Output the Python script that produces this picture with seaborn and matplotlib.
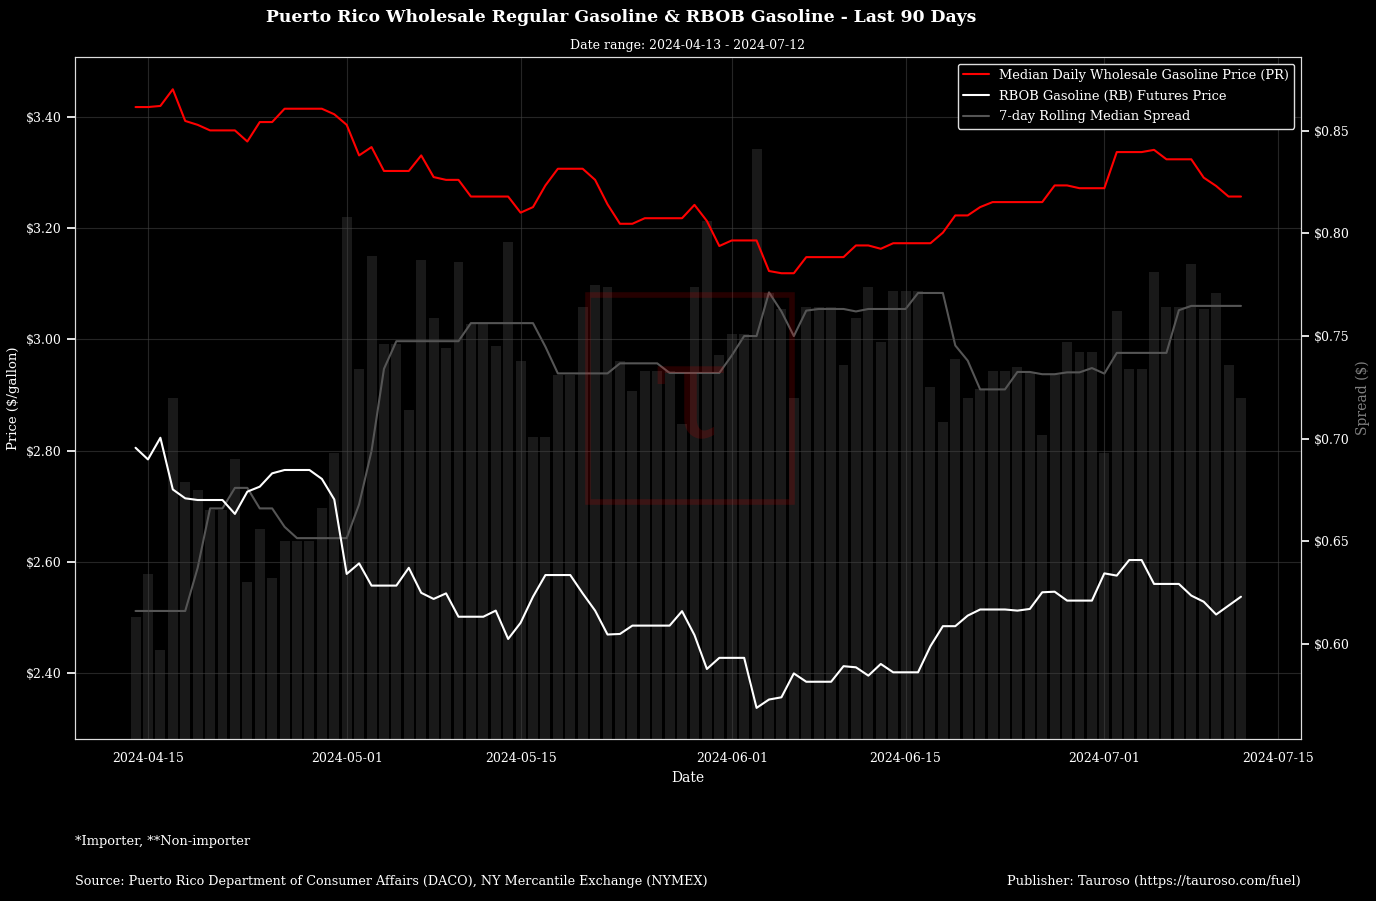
import numpy as np
import pandas as pd
import matplotlib
matplotlib.use('Agg')
import matplotlib.pyplot as plt
import matplotlib.dates as mdates
from matplotlib.patches import Rectangle
from matplotlib.ticker import FuncFormatter
import seaborn as sns

# daily series, 2024-04-14 .. 2024-07-12
start_date = '2024-04-14'
end_date = '2024-07-12'

pr_price = [
    3.418, 3.418, 3.420, 3.450, 3.393, 3.386, 3.376, 3.376, 3.376, 3.356,
    3.391, 3.391, 3.415, 3.415, 3.415, 3.415, 3.405, 3.386, 3.331, 3.346,
    3.303, 3.303, 3.303, 3.331, 3.292, 3.287, 3.287, 3.257, 3.257, 3.257,
    3.257, 3.228, 3.238, 3.277, 3.307, 3.307, 3.307, 3.287, 3.243, 3.208,
    3.208, 3.218, 3.218, 3.218, 3.218, 3.242, 3.213, 3.168, 3.178, 3.178,
    3.178, 3.123, 3.119, 3.119, 3.148, 3.148, 3.148, 3.148, 3.169, 3.169,
    3.163, 3.173, 3.173, 3.173, 3.173, 3.192, 3.223, 3.223, 3.238, 3.247,
    3.247, 3.247, 3.247, 3.247, 3.277, 3.277, 3.272, 3.272, 3.272, 3.337,
    3.337, 3.337, 3.341, 3.324, 3.324, 3.324, 3.291, 3.276, 3.257, 3.257,
]

rbob_price = [
    2.805, 2.784, 2.823, 2.730, 2.714, 2.711, 2.711, 2.711, 2.686, 2.726,
    2.735, 2.759, 2.765, 2.765, 2.765, 2.749, 2.712, 2.578, 2.597, 2.557,
    2.557, 2.557, 2.589, 2.544, 2.533, 2.543, 2.501, 2.501, 2.501, 2.512,
    2.461, 2.490, 2.537, 2.576, 2.576, 2.576, 2.543, 2.512, 2.469, 2.470,
    2.485, 2.485, 2.485, 2.485, 2.511, 2.468, 2.407, 2.427, 2.427, 2.427,
    2.337, 2.352, 2.356, 2.399, 2.384, 2.384, 2.384, 2.412, 2.410, 2.395,
    2.416, 2.401, 2.401, 2.401, 2.448, 2.484, 2.484, 2.503, 2.514, 2.514,
    2.514, 2.512, 2.515, 2.545, 2.546, 2.530, 2.530, 2.530, 2.579, 2.575,
    2.603, 2.603, 2.560, 2.560, 2.560, 2.539, 2.528, 2.505, 2.521, 2.537,
]

rolling_spread = [
    0.616, 0.616, 0.616, 0.616, 0.616, 0.637, 0.666, 0.666, 0.676, 0.676,
    0.666, 0.666, 0.657, 0.6515, 0.6515, 0.6515, 0.6515, 0.6515, 0.668, 0.694,
    0.734, 0.7475, 0.7475, 0.7475, 0.7475, 0.7475, 0.7475, 0.7563, 0.7563, 0.7563,
    0.7563, 0.7563, 0.7563, 0.7448, 0.7318, 0.7318, 0.7318, 0.7318, 0.7318, 0.7367,
    0.7367, 0.7367, 0.7367, 0.732, 0.732, 0.732, 0.732, 0.732, 0.7405, 0.750,
    0.750, 0.7713, 0.762, 0.750, 0.7624, 0.7632, 0.7632, 0.7632, 0.762, 0.7632,
    0.7632, 0.7632, 0.7632, 0.771, 0.771, 0.771, 0.7454, 0.738, 0.724, 0.724,
    0.724, 0.7325, 0.7325, 0.7314, 0.7314, 0.7323, 0.7323, 0.7344, 0.7317, 0.7418,
    0.7418, 0.7418, 0.7418, 0.7418, 0.7626, 0.7647, 0.7647, 0.7647, 0.7647, 0.7647,
]

dates = pd.date_range(start_date, end_date, freq='D')
df = pd.DataFrame({
    'date': dates,
    'pr': pr_price,
    'rbob': rbob_price,
    'rolling': rolling_spread,
})
df['spread'] = df['pr'] - df['rbob']

sns.set_theme(style='dark')
plt.rcParams['font.family'] = ['DejaVu Serif']
plt.rcParams['text.color'] = 'white'

fig = plt.figure(figsize=(13.76, 9.01), dpi=100, facecolor='black')
ax = fig.add_axes([0.0545, 0.1798, 0.891, 0.7569])
ax2 = ax.twinx()

# bars + rolling spread on the right axis
ax2.bar(df['date'], df['spread'], width=0.8, color='white', alpha=0.1,
        linewidth=0, edgecolor='none', zorder=1)
sns.lineplot(data=df, x='date', y='rolling', ax=ax2, color='#555555', linewidth=1.5,
             label='7-day Rolling Median Spread', legend=False)
ax2.set_ylim(0.5536, 0.886)
ax2.yaxis.set_major_formatter(FuncFormatter(lambda v, p: f'${v:.2f}'))
ax2.set_ylabel('Spread ($)', color='gray', fontsize=10)
ax2.tick_params(axis='y', colors='white', labelsize=9)
ax2.grid(False)
ax2.set_facecolor('black')

# prices on the left axis
sns.lineplot(data=df, x='date', y='pr', ax=ax, color='red', linewidth=1.5,
             label='Median Daily Wholesale Gasoline Price (PR)', legend=False)
sns.lineplot(data=df, x='date', y='rbob', ax=ax, color='white', linewidth=1.5,
             label='RBOB Gasoline (RB) Futures Price', legend=False)
ax.set_zorder(ax2.get_zorder() + 1)
ax.patch.set_visible(False)
ax.set_ylim(2.281, 3.508)
ax.set_xlim(pd.Timestamp('2024-04-09 03:00'), pd.Timestamp('2024-07-16 20:00'))
ax.yaxis.set_major_formatter(FuncFormatter(lambda v, p: f'${v:.2f}'))
ax.xaxis.set_major_locator(mdates.DayLocator(bymonthday=[1, 15]))
ax.xaxis.set_major_formatter(mdates.DateFormatter('%Y-%m-%d'))
ax.tick_params(axis='both', colors='white', labelsize=9)
ax.set_xlabel('Date', color='white', fontsize=10)
ax.set_ylabel('Price ($/gallon)', color='white', fontsize=9.5)
ax.grid(True, color='#444444', alpha=0.55, linewidth=0.8)
for side in ['top', 'bottom', 'left', 'right']:
    for a in (ax, ax2):
        a.spines[side].set_color('#dddddd')
        a.spines[side].set_linewidth(0.8)

h1, l1 = ax.get_legend_handles_labels()
h2, l2 = ax2.get_legend_handles_labels()
leg = ax.legend(h1 + h2, l1 + l2, loc='upper right', fontsize=9.4, labelspacing=0.6,
                facecolor='black', edgecolor='#dddddd', labelcolor='white', framealpha=1)

ax.set_title('Date range: 2024-04-13 - 2024-07-12', color='white', fontsize=9, pad=6)
fig.text(621 / 1376, 1 - 18 / 901, 'Puerto Rico Wholesale Regular Gasoline & RBOB Gasoline - Last 90 Days',
         ha='center', va='center', fontsize=12.4, fontweight='bold', color='white')

# watermark logo
fig.patches.append(Rectangle((588 / 1376, 1 - 502 / 901), 204 / 1376, 207 / 901,
                             transform=fig.transFigure, fill=False, edgecolor='red',
                             linewidth=4, alpha=0.15, zorder=10))
fig.text(690 / 1376, 1 - 400 / 901, 'τ', ha='center', va='center', fontsize=100,
         color='red', alpha=0.15, zorder=10)

fig.text(75 / 1376, 1 - 841 / 901, '*Importer, **Non-importer', ha='left', va='center',
         fontsize=9.4, color='white')
fig.text(75 / 1376, 1 - 882 / 901,
         'Source: Puerto Rico Department of Consumer Affairs (DACO), NY Mercantile Exchange (NYMEX)',
         ha='left', va='center', fontsize=9.2, color='white')
fig.text(1301 / 1376, 1 - 882 / 901, 'Publisher: Tauroso (https://tauroso.com/fuel)',
         ha='right', va='center', fontsize=9.3, color='white')

fig.savefig('out.png', dpi=100, facecolor='black')
